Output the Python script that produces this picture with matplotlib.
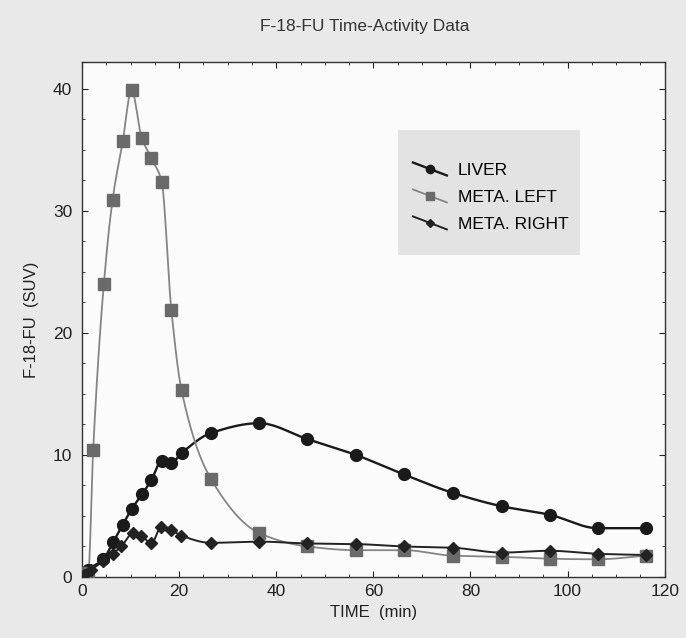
import numpy as np
import matplotlib
matplotlib.use("Agg")
from matplotlib import pyplot as plt
from matplotlib.lines import Line2D
from matplotlib.patches import Rectangle
from matplotlib.ticker import MultipleLocator
from matplotlib.legend_handler import HandlerBase

plt.rcParams['font.family'] = ['Liberation Sans', 'DejaVu Sans']

# time points (min) and SUV values
liver_t = [0.5, 1.3, 4.4, 6.4, 8.4, 10.3, 12.4, 14.3, 16.4, 18.4, 20.5, 26.6,
           36.5, 46.4, 56.4, 66.3, 76.3, 86.4, 96.3, 106.2, 116.2]
liver_v = [0.2, 0.6, 1.45, 2.85, 4.3, 5.6, 6.8, 7.95, 9.5, 9.35, 10.15, 11.8,
           12.6, 11.3, 10.0, 8.4, 6.9, 5.8, 5.1, 4.0, 4.0]

left_t = [0.5, 1.3, 2.3, 4.5, 6.3, 8.4, 10.2, 12.3, 14.3, 16.4, 18.4, 20.5, 26.6,
          36.5, 46.4, 56.4, 66.3, 76.3, 86.4, 96.3, 106.2, 116.2]
left_v = [0.2, 0.3, 10.4, 24.0, 30.9, 35.7, 39.9, 36.0, 34.3, 32.4, 21.9, 15.3, 8.0,
          3.6, 2.5, 2.2, 2.2, 1.75, 1.66, 1.5, 1.45, 1.75]

right_t = [0.5, 1.9, 4.4, 6.3, 8.1, 10.5, 12.2, 14.3, 16.3, 18.4, 20.4, 26.6,
           36.5, 46.4, 56.4, 66.3, 76.3, 86.4, 96.3, 106.2, 116.2]
right_v = [0.2, 0.6, 1.3, 1.9, 2.5, 3.6, 3.4, 2.75, 4.1, 3.85, 3.4, 2.8,
           2.9, 2.75, 2.7, 2.5, 2.4, 2.0, 2.15, 1.9, 1.8]

x_ticks = [0, 20, 40, 60, 80, 100, 120]
y_ticks = [0, 10, 20, 30, 40]


def smooth(x, y, n=600):
    # monotone cubic (pchip style) curve through the measured points
    x = np.asarray(x, float)
    y = np.asarray(y, float)
    h = np.diff(x)
    d = np.diff(y) / h
    m = np.zeros_like(y)
    for k in range(1, len(x) - 1):
        if d[k - 1] * d[k] > 0:
            w1 = 2 * h[k] + h[k - 1]
            w2 = h[k] + 2 * h[k - 1]
            m[k] = (w1 + w2) / (w1 / d[k - 1] + w2 / d[k])
    m[0] = d[0]
    m[-1] = d[-1]
    xs = np.linspace(x[0], x[-1], n)
    idx = np.clip(np.searchsorted(x, xs) - 1, 0, len(h) - 1)
    t = (xs - x[idx]) / h[idx]
    h00 = 2 * t**3 - 3 * t**2 + 1
    h10 = t**3 - 2 * t**2 + t
    h01 = -2 * t**3 + 3 * t**2
    h11 = t**3 - t**2
    ys = (h00 * y[idx] + h10 * h[idx] * m[idx] + h01 * y[idx + 1]
          + h11 * h[idx] * m[idx + 1])
    return xs, ys


class DiagHandler(HandlerBase):
    # legend sample: short falling diagonal with the marker in the middle
    def create_artists(self, legend, orig_handle, xdescent, ydescent,
                       width, height, fontsize, trans):
        x0, x1 = -xdescent, -xdescent + width
        y0, y1 = -ydescent + height * 0.95, -ydescent + height * 0.05
        ln = Line2D([x0, x1], [y0, y1], color=orig_handle.get_color(),
                    lw=orig_handle.get_linewidth(), transform=trans)
        mk = Line2D([(x0 + x1) / 2], [(y0 + y1) / 2], linestyle='none',
                    marker=orig_handle.get_marker(),
                    ms=orig_handle.get_markersize(),
                    markerfacecolor=orig_handle.get_markerfacecolor(),
                    markeredgecolor=orig_handle.get_markeredgecolor(),
                    transform=trans)
        return [ln, mk]


fig = plt.figure(figsize=(6.86, 6.38), dpi=100)
fig.patch.set_facecolor('#e9e9e9')
ax = fig.add_axes([0.1195, 0.0956, 0.8495, 0.8074])
ax.set_facecolor('#fbfbfb')

series = [
    (liver_t, liver_v, 'LIVER', '#1a1a1a', '#1a1a1a', 'o', 8.5, 1.7),
    (left_t, left_v, 'META. LEFT', '#858585', '#6a6a6a', 's', 9, 1.3),
    (right_t, right_v, 'META. RIGHT', '#222222', '#222222', 'D', 6, 1.4),
]
handles = []
names = []
for t, v, name, lc, mc, mk, ms, lw in series:
    xs, ys = smooth(t, v)
    ax.plot(xs, ys, color=lc, lw=lw, zorder=2)
    ax.plot(t, v, linestyle='none', marker=mk, ms=ms, color=mc,
            markeredgecolor=mc, zorder=3)
    h = Line2D([], [], color=lc, lw=lw, marker=mk, ms=ms * 0.7,
               markerfacecolor=mc, markeredgecolor=mc)
    handles.append(h)
    names.append(name)

ax.set_xlim(0, 120)
ax.set_ylim(0, 42.2)
ax.set_xticks(x_ticks)
ax.set_yticks(y_ticks)
ax.xaxis.set_minor_locator(MultipleLocator(5))
ax.yaxis.set_minor_locator(MultipleLocator(2.5))
ax.tick_params(which='both', direction='in', top=True, right=True,
               labelsize=12.5, colors='#222222')
ax.tick_params(axis='x', pad=5)
ax.tick_params(axis='y', pad=7)
ax.tick_params(which='major', length=4)
ax.tick_params(which='minor', length=2)
for sp in ax.spines.values():
    sp.set_color('#333333')
    sp.set_linewidth(1.0)

ax.set_xlabel('TIME  (min)', fontsize=12, color='#222222', labelpad=4)
ax.set_ylabel('F-18-FU  (SUV)', fontsize=12, color='#222222', labelpad=10)
fig.text(0.531, 0.958, 'F-18-FU Time-Activity Data', ha='center', va='center',
         fontsize=12.5, color='#333333')

# grey legend panel
ax.add_patch(Rectangle((0.542, 0.625), 0.312, 0.243, transform=ax.transAxes,
                       facecolor='#e3e3e3', edgecolor='none', zorder=4))
leg = ax.legend(handles, names, loc='center left', bbox_to_anchor=(0.568, 0.738),
                frameon=False, fontsize=12.5,
                handler_map={Line2D: DiagHandler()},
                handlelength=1.95, handleheight=0.9, handletextpad=0.65,
                labelspacing=0.62, borderpad=0, borderaxespad=0)
leg.set_zorder(5)

fig.savefig('out.png', dpi=100, facecolor=fig.get_facecolor())
